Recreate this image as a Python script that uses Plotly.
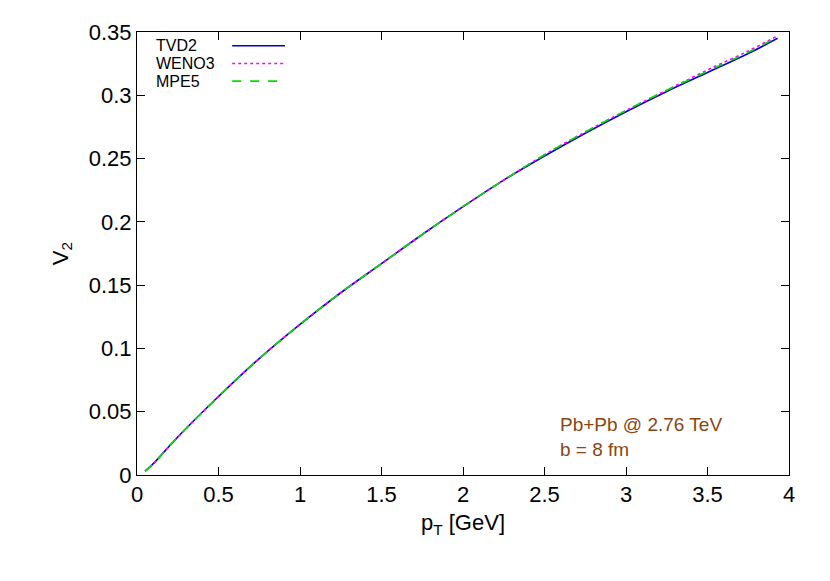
import plotly.graph_objects as go

pt = [0.05, 0.1, 0.25, 0.5, 0.75, 1.0, 1.25, 1.5, 1.75, 2.0, 2.25, 2.5, 2.75, 3.0, 3.25, 3.5, 3.75, 3.93]
tvd2 = [0.003, 0.009, 0.030, 0.062, 0.092, 0.119, 0.144, 0.167, 0.190, 0.212, 0.233, 0.252, 0.270, 0.287, 0.303, 0.318, 0.333, 0.345]
weno3 = [0.003, 0.009, 0.030, 0.062, 0.092, 0.119, 0.144, 0.167, 0.190, 0.212, 0.233, 0.253, 0.271, 0.288, 0.304, 0.320, 0.335, 0.347]
mpe5 = [0.003, 0.009, 0.030, 0.062, 0.092, 0.119, 0.144, 0.167, 0.190, 0.212, 0.233, 0.253, 0.271, 0.288, 0.304, 0.319, 0.334, 0.346]

names = ["TVD2", "WENO3", "MPE5"]
colors = ["#0000cc", "#ff00ff", "#00dd00"]
dashes = ["solid", "dot", "dash"]

fig = go.Figure()
for name, ys, c, d in zip(names, [tvd2, weno3, mpe5], colors, dashes):
    fig.add_trace(go.Scatter(x=pt, y=ys, mode="lines", name=name, showlegend=False,
                             line=dict(color=c, dash=d, width=1.6, shape="spline")))

# legend drawn gnuplot-style: text on the left, sample on the right
for i, (name, c, d) in enumerate(zip(names, colors, dashes)):
    yp = 0.969 - i * 0.04
    fig.add_annotation(x=0.026, y=yp, xref="paper", yref="paper", text=name, showarrow=False,
                       xanchor="left", yanchor="middle", font=dict(size=16, color="black"))
    fig.add_shape(type="line", xref="paper", yref="paper", x0=0.146, x1=0.227, y0=yp, y1=yp,
                  line=dict(color=c, dash=d, width=1.6))

fig.add_annotation(x=0.645, y=0.03, xref="paper", yref="paper",
                   text="Pb+Pb @ 2.76 TeV<br>b = 8 fm", showarrow=False, align="left",
                   xanchor="left", yanchor="bottom", font=dict(size=19, color="#8b4513"))

axis = dict(showgrid=False, zeroline=False, showline=True, linecolor="black", linewidth=1,
            mirror="allticks", ticks="inside", ticklen=8, tickcolor="black",
            tickfont=dict(size=22, color="black"))
fig.update_layout(
    width=830, height=581,
    margin=dict(l=129, r=49, t=20, b=114),
    paper_bgcolor="white", plot_bgcolor="white",
    font=dict(family="Liberation Sans, Arial, sans-serif"),
    xaxis=dict(axis, range=[0, 4], dtick=0.5,
               title=dict(text="p<sub>T</sub> [GeV]", font=dict(size=22, color="black"), standoff=8)),
    yaxis=dict(axis, range=[0, 0.35], dtick=0.05,
               title=dict(text="V<sub>2</sub>", font=dict(size=22, color="black"), standoff=14)),
)
fig.write_html("out.html")
